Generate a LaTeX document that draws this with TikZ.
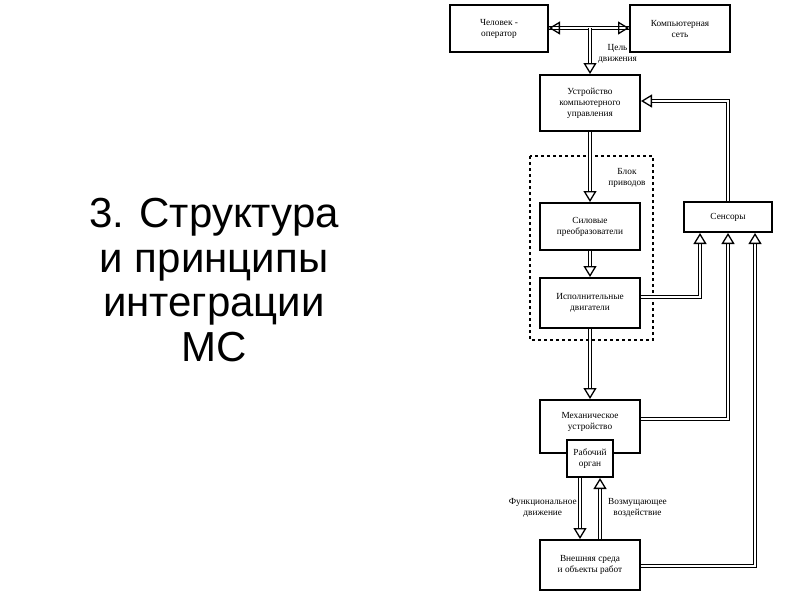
\documentclass[tikz,border=0pt]{standalone}
\usepackage{fontspec}
\setmainfont{Liberation Serif}
\newfontfamily\titlefont{Liberation Sans}
\usetikzlibrary{arrows.meta}
\begin{document}
\begin{tikzpicture}[x=1pt,y=-1pt,
  box/.style={draw,line width=2pt,inner sep=0pt,align=center,font=\fontsize{9.3}{11}\selectfont},
  lbl/.style={align=center,font=\fontsize{9.3}{10.5}\selectfont,inner sep=1pt},
  dbl/.style={draw,double=white,double distance=2.4pt,line width=1pt},
  tip/.style={-{Triangle[open,width=13pt,length=11pt,line width=1.3pt]}}]
\useasboundingbox (0,0) rectangle (800,600);
\node[font=\titlefont\fontsize{42}{44.5}\selectfont,align=center] (title) at (214,280) {3. Структура\\и принципы\\интеграции\\МС};
% boxes
\node[box,minimum width=98,minimum height=47] (op) at (499,28.5) {Человек -\\оператор};
\node[box,minimum width=100,minimum height=47] (net) at (680,28.5) {Компьютерная\\сеть};
\node[box,minimum width=100,minimum height=56] (cu) at (590,103) {Устройство\\компьютерного\\управления};
\draw[dashed,line width=1.6pt] (530,156) rectangle (653,340);
\node[lbl] (blk) at (627,178) {Блок\\приводов};
\node[box,minimum width=100,minimum height=47] (pc) at (590,226.5) {Силовые\\преобразователи};
\node[box,minimum width=100,minimum height=50] (act) at (590,303) {Исполнительные\\двигатели};
\node[box,minimum width=100,minimum height=53,text depth=12pt] (mech) at (590,426.5) {Механическое\\устройство};
\node[box,minimum width=46,minimum height=37,fill=white] (wo) at (590,458.5) {Рабочий\\орган};
\node[box,minimum width=100,minimum height=50] (env) at (590,565) {Внешняя среда\\и объекты работ};
\node[box,minimum width=88,minimum height=30] (sen) at (728,217) {Сенсоры};
% labels
\node[lbl,anchor=west] (goal) at (597,54) {Цель\\движения};
\node[lbl,anchor=east] (fm) at (578,508) {Функциональное\\движение};
\node[lbl,anchor=west] (dist) at (607,508) {Возмущающее\\воздействие};
% connectors
\coordinate (j) at (590,28);
\draw[dbl] (op.east |- j) -- (net.west |- j);
\draw[dbl,tip] (j) -- (net.west |- j);
\draw[dbl,tip] (j) -- (op.east |- j);
\draw[dbl,tip] (j) -- (cu.north);
\draw[dbl,tip] (cu.south) -- (pc.north);
\draw[dbl,tip] (pc.south) -- (act.north);
\draw[dbl,tip] (act.south) -- (mech.north);
\draw[dbl,tip] (wo.south -| 580,0) -- (env.north -| 580,0);
\draw[dbl,tip] (env.north -| 600,0) -- (wo.south -| 600,0);
\draw[dbl,tip] (sen.north) -- (728,101) -- (cu.east |- 0,101);
\draw[dbl,tip] (act.east |- 0,297) -- (700,297) -- (sen.south -| 700,0);
\draw[dbl,tip] (mech.east |- 0,419) -- (728,419) -- (sen.south);
\draw[dbl,tip] (env.east |- 0,566) -- (755,566) -- (sen.south -| 755,0);
\end{tikzpicture}
\end{document}
